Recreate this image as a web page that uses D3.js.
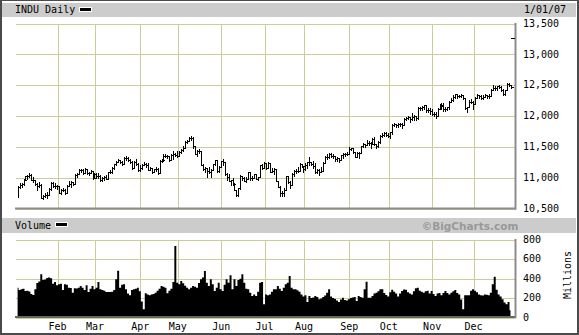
<!DOCTYPE html>
<html>
<head>
<meta charset="utf-8">
<script src="https://cdn.jsdelivr.net/npm/d3@7"></script>
<style>
  body { margin: 0; background: #fff; }
  svg { display: block; }
  text { font-family: "DejaVu Sans Mono", monospace; font-size: 10px; fill: #000; }
</style>
</head>
<body>
<svg id="chart" width="579" height="335"></svg>
<script>
// INDU daily bars for 2006, one entry per trading day (Jan 3 .. Dec 29)
const closes = [
  10847,10880,10882,10959,11011,11011,11043,10962,10959,10896,10854,10880,10667,10689,10712,10710,10809,10907,10857,10864,
  10851,10749,10793,10798,10749,10858,10883,10919,10892,11028,11058,11120,11115,11069,11137,11069,11061,11097,10993,
  11053,11025,11021,10958,10980,11005,10972,11076,11076,11151,11209,11254,11279,11241,11218,11318,11317,11280,11250,11154,11251,11214,11109,
  11144,11203,11217,11194,11120,11141,11089,11129,11137,11073,11268,11279,11342,11347,11336,11283,11354,11382,11367,
  11343,11416,11438,11477,11577,11585,11640,11642,11500,11381,11428,11419,11205,11128,11144,11094,11076,11117,11211,11278,11093,11168,
  11260,11247,11048,11002,10939,10946,10892,10792,10706,10817,11016,10992,10942,10974,11078,10979,10990,11046,10973,11002,11191,11150,
  11228,11151,11225,11091,11103,11134,10938,10846,10739,10747,10800,11012,10928,10869,11052,11103,11102,11100,11220,11186,
  11126,11200,11242,11240,11220,11174,11076,11124,11089,11098,11231,11327,11334,11381,11345,11339,11297,11304,11284,11352,11370,11382,11381,
  11464,11469,11406,11331,11392,11396,11498,11543,11527,11560,11555,11541,11613,11534,11508,11576,11670,11689,11718,11679,
  11670,11727,11850,11866,11850,11857,11867,11852,11947,11961,11980,11950,11969,11992,11960,12116,12127,12135,12163,12090,12086,12081,
  12031,12018,11986,12105,12156,12176,12103,12109,12131,12218,12251,12305,12343,12317,12322,12326,12280,12122,12136,12226,12221,
  12194,12284,12331,12309,12279,12307,12329,12315,12318,12417,12446,12441,12471,12463,12421,12343,12407,12510,12501,12463
];
const highs = [
  10861,10907,10910,10975,11020,11030,11060,11045,10995,10960,10900,10915,10885,10715,10745,10760,10830,10920,10920,10900,
  10880,10860,10810,10825,10805,10865,10930,10935,10925,11050,11070,11130,11135,11130,11150,11140,11085,11120,11100,
  11065,11060,11075,11040,10995,11020,11030,11090,11110,11160,11220,11270,11295,11285,11270,11330,11340,11330,11290,11270,11265,11300,11225,
  11200,11215,11240,11230,11225,11160,11150,11140,11160,11145,11280,11300,11375,11380,11360,11345,11380,11420,11400,
  11420,11430,11460,11500,11590,11610,11650,11670,11650,11500,11440,11450,11420,11210,11170,11150,11170,11140,11220,11285,11275,11180,
  11270,11300,11250,11060,11050,10960,10990,10900,10800,10830,11030,11020,11010,11000,11090,11075,11020,11055,11050,11010,11200,11220,
  11240,11225,11240,11225,11150,11145,11135,10940,10860,10780,10820,11020,11020,10930,11060,11120,11140,11170,11230,11220,
  11185,11230,11250,11320,11245,11270,11230,11135,11125,11170,11240,11340,11370,11385,11385,11380,11350,11320,11310,11365,11390,11400,11410,
  11490,11480,11470,11410,11410,11410,11510,11550,11545,11600,11590,11575,11640,11650,11540,11590,11680,11710,11730,11725,
  11715,11740,11860,11880,11870,11880,11880,11880,11960,11975,12000,11980,12040,12010,12000,12130,12140,12160,12170,12165,12120,12120,
  12100,12050,12060,12120,12180,12200,12200,12130,12145,12230,12290,12330,12345,12350,12340,12350,12330,12285,12145,12250,12260,
  12230,12300,12345,12340,12340,12325,12350,12340,12350,12430,12490,12480,12480,12490,12480,12430,12410,12520,12530,12500
];
const lows = [
  10684,10831,10845,10880,10950,10965,10995,10950,10925,10870,10790,10845,10660,10650,10680,10670,10710,10800,10840,10830,
  10810,10740,10730,10770,10735,10750,10850,10840,10865,10885,11000,11055,11085,11050,11065,11050,11035,11060,10975,
  10990,10990,10980,10945,10930,10950,10965,10970,11060,11065,11140,11200,11240,11225,11200,11210,11280,11265,11230,11140,11150,11200,11100,
  11100,11135,11190,11160,11110,11110,11060,11080,11100,11050,11070,11240,11270,11320,11310,11270,11280,11290,11340,
  11330,11340,11390,11430,11480,11560,11580,11600,11480,11370,11350,11390,11190,11110,11080,11000,11060,11010,11115,11205,11085,11090,
  11160,11200,11040,10950,10930,10870,10880,10785,10700,10700,10815,10950,10930,10925,10965,10960,10955,10990,10965,10955,11005,11140,
  11150,11130,11150,11080,11080,11050,10930,10840,10700,10700,10690,10800,10910,10830,10870,11020,11060,11080,11100,11160,
  11080,11120,11150,11200,11190,11150,11070,11060,11040,11080,11100,11230,11300,11310,11320,11310,11270,11270,11250,11280,11310,11345,11360,
  11380,11440,11390,11320,11330,11310,11395,11490,11490,11525,11520,11480,11540,11520,11470,11490,11560,11650,11670,11660,
  11655,11640,11700,11830,11810,11820,11830,11800,11850,11920,11945,11890,11930,11930,11930,11950,12090,12090,12110,12060,12060,12030,
  12010,11990,11960,11990,12100,12100,12080,12080,12085,12110,12215,12240,12280,12290,12295,12300,12270,12110,12050,12130,12200,
  12100,12190,12280,12290,12270,12260,12300,12280,12290,12320,12420,12420,12410,12450,12400,12330,12340,12410,12480,12450
];
// Daily volume, millions of shares
const volumes = [
  300,277,285,290,267,270,262,235,225,284,350,365,438,380,385,400,405,398,340,360,
  325,335,342,277,335,330,300,298,250,294,292,300,318,300,277,325,256,290,318,
  284,300,359,284,277,270,256,256,256,260,277,386,475,300,330,335,284,240,222,277,284,290,300,
  265,160,79,243,230,222,232,235,250,270,290,318,310,300,243,270,290,359,728,
  352,335,369,345,320,300,284,300,318,310,300,350,386,404,472,352,318,386,335,267,300,352,
  284,267,330,386,352,427,284,386,318,380,393,438,352,290,284,250,215,232,215,260,352,359,
  130,232,222,232,260,284,284,318,290,267,300,335,352,421,300,284,284,275,260,232,
  209,222,154,215,195,200,215,205,181,190,205,220,250,284,209,195,185,170,154,180,198,175,168,
  181,195,200,205,164,215,205,198,284,362,198,198,215,240,250,265,284,285,245,225,
  209,255,280,260,240,210,240,267,282,280,255,240,232,265,295,300,270,258,250,265,270,240,
  267,235,215,240,245,222,245,267,245,232,250,265,277,245,232,180,79,222,222,222,270,
  285,270,255,232,222,220,232,228,222,250,335,414,280,232,210,181,150,130,155,70
];
// first trading day of each month (index into the daily arrays)
const monthStarts = [20, 39, 62, 81, 103, 125, 145, 168, 188, 210, 231];
const monthLabels = ["Feb","Mar","Apr","May","Jun","Jul","Aug","Sep","Oct","Nov","Dec"];
const priceTicks = [10500, 11000, 11500, 12000, 12500, 13000, 13500];
const priceMinorTick = 13250;
const volumeTicks = [0, 200, 400, 600, 800];

const W = 579, H = 335;
const plotL = 15, plotR = 515;
const grid = "#cccc99", band = "#cccccc", edge = "#8c8c8c", frame = "#4a4a4a";

const svg = d3.select("#chart");

const x = d3.scaleLinear().domain([0, closes.length - 1]).range([17.6, 510.5]);
const y = d3.scaleLinear().domain([10500, 13500]).range([208, 23]);
const yv = d3.scaleLinear().domain([0, 800]).range([317, 239]);

svg.append("rect").attr("width", W).attr("height", H).attr("fill", "#fff");

// title bands
svg.append("rect").attr("x", 2).attr("y", 3).attr("width", 574).attr("height", 14).attr("fill", band);
svg.append("rect").attr("x", 2).attr("y", 218).attr("width", 574).attr("height", 15).attr("fill", band);

svg.append("text").attr("x", 15).attr("y", 13).text("INDU Daily");
svg.append("rect").attr("x", 79).attr("y", 7).attr("width", 13).attr("height", 5).attr("fill", "#fff");
svg.append("rect").attr("x", 80).attr("y", 8).attr("width", 11).attr("height", 3).attr("fill", "#000");
svg.append("text").attr("x", 524).attr("y", 13).text("1/01/07");

svg.append("text").attr("x", 15).attr("y", 229).text("Volume");
svg.append("rect").attr("x", 55).attr("y", 222).attr("width", 13).attr("height", 5).attr("fill", "#fff");
svg.append("rect").attr("x", 56).attr("y", 223).attr("width", 11).attr("height", 3).attr("fill", "#000");
svg.append("text").attr("x", 470).attr("y", 229.5).attr("text-anchor", "middle")
  .style("font-family", "'DejaVu Sans', Verdana, sans-serif").style("font-weight", "bold")
  .style("font-size", "10.5px").style("fill", "#999").text("\u00A9BigCharts.com");

// ---- price panel grid
const pg = svg.append("g");
pg.append("g").attr("transform", `translate(${plotL},0)`)
  .call(d3.axisRight(y).tickValues(priceTicks).tickSize(plotR - plotL).tickFormat(""))
  .call(g => g.select(".domain").remove())
  .call(g => g.selectAll("line").attr("stroke", grid).attr("shape-rendering", "crispEdges"));
pg.append("g").attr("transform", "translate(0,23)")
  .call(d3.axisBottom(x).tickValues(monthStarts).tickSize(208 - 23).tickFormat(""))
  .call(g => g.select(".domain").remove())
  .call(g => g.selectAll("line").attr("stroke", grid).attr("shape-rendering", "crispEdges"));

// ---- volume panel grid
const vg = svg.append("g");
vg.append("g").attr("transform", `translate(${plotL},0)`)
  .call(d3.axisRight(yv).tickValues(volumeTicks).tickSize(plotR - plotL).tickFormat(""))
  .call(g => g.select(".domain").remove())
  .call(g => g.selectAll("line").attr("stroke", grid).attr("shape-rendering", "crispEdges"));
vg.append("g").attr("transform", "translate(0,239)")
  .call(d3.axisBottom(x).tickValues(monthStarts).tickSize(317 - 239).tickFormat(""))
  .call(g => g.select(".domain").remove())
  .call(g => g.selectAll("line").attr("stroke", grid).attr("shape-rendering", "crispEdges"));

// snap gridline positions to whole pixels
svg.selectAll(".tick").each(function () {
  const t = d3.select(this).attr("transform");
  const m = /translate\(([-\d.]+),([-\d.]+)\)/.exec(t);
  if (m) d3.select(this).attr("transform", `translate(${Math.round(+m[1]) + 0.5},${Math.round(+m[2]) + 0.5})`);
});

// ---- volume area
const volArea = d3.area()
  .x((d, i) => x(i))
  .y0(yv(0))
  .y1(d => yv(d))
  .curve(d3.curveStep);
svg.append("path").datum(volumes).attr("d", volArea).attr("fill", "#000");

// ---- price bars (high-low with close tick)
const px = i => Math.round(x(i)) + 0.5;
const barPath = closes.map((c, i) => {
  const xi = px(i);
  const yh = Math.round(y(highs[i]));
  const yl = Math.round(y(lows[i])) + 1;
  const yc = Math.round(y(c)) + 0.5;
  return `M${xi},${yh}V${yl}M${xi},${yc}H${xi + 2}`;
}).join("");
svg.append("path").attr("d", barPath).attr("fill", "none").attr("stroke", "#000")
  .attr("stroke-width", 1).attr("shape-rendering", "crispEdges");

// ---- panel edges
svg.append("line").attr("x1", plotL).attr("x2", plotR + 1).attr("y1", 208.5).attr("y2", 208.5)
  .attr("stroke", edge).attr("stroke-width", 2);
svg.append("line").attr("x1", plotR + 0.5).attr("x2", plotR + 0.5).attr("y1", 23).attr("y2", 209.5)
  .attr("stroke", edge).attr("stroke-width", 2);
svg.append("line").attr("x1", plotL).attr("x2", plotR + 1).attr("y1", 317).attr("y2", 317)
  .attr("stroke", "#666").attr("stroke-width", 2);
svg.append("line").attr("x1", plotR + 0.5).attr("x2", plotR + 0.5).attr("y1", 239).attr("y2", 318)
  .attr("stroke", edge).attr("stroke-width", 2);

// short minor tick on the inside of the price scale
const yMinor = Math.round(y(priceMinorTick)) + 0.5;
svg.append("line").attr("x1", plotR - 4).attr("x2", plotR - 0.5)
  .attr("y1", yMinor).attr("y2", yMinor)
  .attr("stroke", "#000").attr("stroke-width", 1).attr("shape-rendering", "crispEdges");

// ---- axis labels
const labelAxis = (g) => g.call(a => a.select(".domain").remove())
  .call(a => a.selectAll("text").style("font-family", "'DejaVu Sans Mono', monospace").style("font-size", "10px").attr("fill", "#000"));

svg.append("g").attr("transform", `translate(${plotR},0)`)
  .call(d3.axisRight(y).tickValues(priceTicks).tickSize(0).tickPadding(8).tickFormat(d3.format(",")))
  .call(labelAxis);
svg.append("g").attr("transform", `translate(${plotR},0)`)
  .call(d3.axisRight(yv).tickValues(volumeTicks).tickSize(0).tickPadding(8))
  .call(labelAxis);
svg.append("g").attr("transform", "translate(0,317)")
  .call(d3.axisBottom(x).tickValues(monthStarts).tickSize(0).tickPadding(6)
    .tickFormat((d, i) => monthLabels[i]))
  .call(labelAxis);

svg.append("text").attr("transform", "translate(571,275) rotate(-90)")
  .attr("text-anchor", "middle").text("Millions");

// ---- outer frame
svg.append("rect").attr("x", 0).attr("y", 0).attr("width", 2).attr("height", H).attr("fill", frame);
svg.append("rect").attr("x", W - 2).attr("y", 0).attr("width", 2).attr("height", H).attr("fill", frame);
svg.append("rect").attr("x", 0).attr("y", 0).attr("width", W).attr("height", 1).attr("fill", frame);
svg.append("rect").attr("x", 0).attr("y", H - 2).attr("width", W).attr("height", 2).attr("fill", frame);
</script>
</body>
</html>
